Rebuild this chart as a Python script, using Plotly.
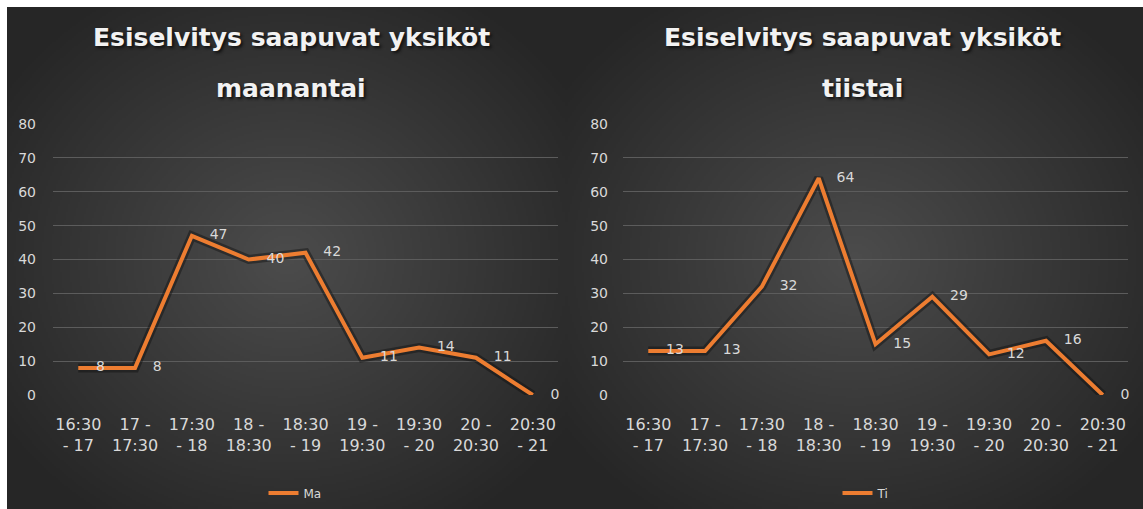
import base64
import struct
import zlib

import numpy as np
import plotly.graph_objects as go

# ---------------- data ----------------
categories = ["16:30<br>- 17", "17 -<br>17:30", "17:30<br>- 18", "18 -<br>18:30",
              "18:30<br>- 19", "19 -<br>19:30", "19:30<br>- 20", "20 -<br>20:30",
              "20:30<br>- 21"]
ma_values = [8, 8, 47, 40, 42, 11, 14, 11, 0]
ti_values = [13, 13, 32, 64, 15, 29, 12, 16, 0]
y_ticks = [0, 10, 20, 30, 40, 50, 60, 70, 80]
series_names = ["Ma", "Ti"]
title_lines = [["Esiselvitys saapuvat yksiköt", "maanantai"],
               ["Esiselvitys saapuvat yksiköt", "tiistai"]]

W, H = 1143, 509
ORANGE = "#ED7D31"
TXT = "#D9D9D9"
GRID = "#5C5C5C"
FONT = "DejaVu Sans"


def png_data_uri(arr):
    h, w, _ = arr.shape
    raw = b"".join(b"\x00" + arr[i].astype(np.uint8).tobytes() for i in range(h))

    def chunk(tag, data):
        c = struct.pack(">I", len(data)) + tag + data
        return c + struct.pack(">I", zlib.crc32(tag + data) & 0xFFFFFFFF)

    png = b"\x89PNG\r\n\x1a\n"
    png += chunk(b"IHDR", struct.pack(">IIBBBBB", w, h, 8, 2, 0, 0, 0))
    png += chunk(b"IDAT", zlib.compress(raw, 9))
    png += chunk(b"IEND", b"")
    return "data:image/png;base64," + base64.b64encode(png).decode()


def radial_panel(w, h, cx, cy, inner, outer):
    ys, xs = np.mgrid[0:h, 0:w]
    r = np.sqrt(((xs - cx) / (w * 0.62)) ** 2 + ((ys - cy) / (h * 0.62)) ** 2)
    r = np.clip(r, 0, 1)[..., None]
    inner = np.array(inner, float)
    outer = np.array(outer, float)
    return inner * (1 - r) + outer * r


# panel geometry (pixels)
panels = [(7, 565), (565, 1143)]
top = 7
images = []
for (x0, x1) in panels:
    pw, ph = (x1 - x0) // 2, (H - top) // 2
    arr = radial_panel(pw, ph, pw * 0.5, ph * 0.5, (76, 76, 76), (38, 38, 38))
    images.append(dict(source=png_data_uri(arr), xref="paper", yref="paper",
                       x=x0 / W, y=1 - top / H, sizex=(x1 - x0) / W, sizey=(H - top) / H,
                       sizing="stretch", layer="below", xanchor="left", yanchor="top"))

plot_x = [(53, 558), (623, 1128)]
y_top, y_bot = 124, 395

fig = go.Figure()
values = [ma_values, ti_values]
for i in range(2):
    xa = "x" if i == 0 else "x2"
    ya = "y" if i == 0 else "y2"
    fig.add_trace(go.Scatter(x=categories, y=values[i], mode="lines",
                             line=dict(color="rgba(15,15,15,0.45)", width=9),
                             xaxis=xa, yaxis=ya, showlegend=False, hoverinfo="skip",
                             cliponaxis=False))
    fig.add_trace(go.Scatter(x=categories, y=values[i], mode="lines+text", name=series_names[i],
                             line=dict(color=ORANGE, width=4),
                             text=["\u00a0\u00a0\u00a0\u00a0" + str(v) for v in values[i]],
                             textposition="middle right",
                             textfont=dict(family=FONT, size=14, color=TXT),
                             xaxis=xa, yaxis=ya, cliponaxis=False,
                             legend="legend" if i == 0 else "legend2"))

axis_common = dict(showgrid=False, showline=False, zeroline=False, ticks="",
                   tickfont=dict(family=FONT, size=16, color=TXT), type="category",
                   fixedrange=True, automargin=False, ticklabelstandoff=18)
yaxis_common = dict(range=[0, 80], tickvals=y_ticks, showgrid=True, gridcolor=GRID, gridwidth=1,
                    zeroline=False, showline=False, ticks="", automargin=False,
                    tickfont=dict(family=FONT, size=14, color=TXT),
                    domain=[1 - y_bot / H, 1 - y_top / H], fixedrange=True)

fig.update_layout(
    width=W, height=H, margin=dict(l=0, r=0, t=0, b=0, autoexpand=False),
    paper_bgcolor="white", plot_bgcolor="rgba(0,0,0,0)",
    images=images,
    xaxis=dict(domain=[plot_x[0][0] / W, plot_x[0][1] / W], anchor="y", **axis_common),
    xaxis2=dict(domain=[plot_x[1][0] / W, plot_x[1][1] / W], anchor="y2", **axis_common),
    yaxis=dict(anchor="x", ticklabelstandoff=16, **yaxis_common),
    yaxis2=dict(anchor="x2", ticklabelstandoff=14, **yaxis_common),
    legend=dict(x=295 / W, y=1 - 493 / H, xanchor="center", yanchor="middle",
                orientation="h", bgcolor="rgba(0,0,0,0)",
                font=dict(family=FONT, size=12, color=TXT)),
    legend2=dict(x=866 / W, y=1 - 493 / H, xanchor="center", yanchor="middle",
                 orientation="h", bgcolor="rgba(0,0,0,0)",
                 font=dict(family=FONT, size=12, color=TXT)),
    showlegend=True,
)

title_cx = [291, 862]
title_cy = [37, 88]
for i in range(2):
    for j in range(2):
        fig.add_annotation(text="<b>" + title_lines[i][j] + "</b>", xref="paper", yref="paper",
                           x=title_cx[i] / W, y=1 - title_cy[j] / H, xanchor="center",
                           yanchor="middle", showarrow=False,
                           font=dict(family=FONT, size=25, color="#F2F2F2",
                                     shadow="2px 2px 3px #111111"))

fig.write_html("out.html")
